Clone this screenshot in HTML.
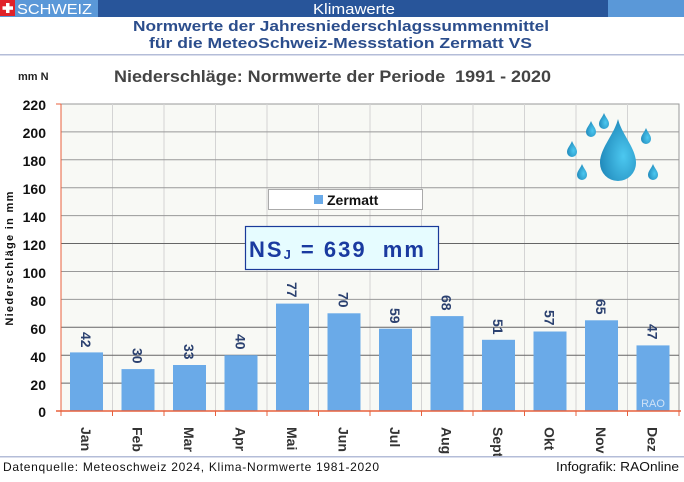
<!DOCTYPE html>
<html><head><meta charset="utf-8"><style>
body{margin:0;width:684px;height:477px;overflow:hidden;background:#fff}
text{font-family:"Liberation Sans",sans-serif}
</style></head><body>
<svg width="684" height="477" xmlns="http://www.w3.org/2000/svg">
<defs>
<radialGradient id="dg" cx="0.65" cy="0.6" r="0.7"><stop offset="0" stop-color="#4cc8f0"/><stop offset="1" stop-color="#1e86b8"/></radialGradient>
</defs>
<rect x="0" y="0" width="684" height="17" fill="#5a98d8"/>
<rect x="98" y="0" width="510" height="17" fill="#28559a"/>
<rect x="0" y="0" width="15" height="16" fill="#e0222a"/>
<rect x="6" y="3" width="3.5" height="10" fill="#fff"/><rect x="2.5" y="6.3" width="10.5" height="3.5" fill="#fff"/>
<text x="17" y="14" font-size="15" fill="#fff" textLength="75" lengthAdjust="spacingAndGlyphs">SCHWEIZ</text>
<text x="354" y="14" font-size="15" fill="#fff" text-anchor="middle" textLength="82" lengthAdjust="spacingAndGlyphs">Klimawerte</text>
<text x="133" y="31" font-size="15" font-weight="bold" fill="#2b4d8c" textLength="416" lengthAdjust="spacingAndGlyphs">Normwerte der Jahresniederschlagssummenmittel</text>
<text x="149" y="48" font-size="15" font-weight="bold" fill="#2b4d8c" textLength="383" lengthAdjust="spacingAndGlyphs">für die MeteoSchweiz-Messstation Zermatt VS</text>
<rect x="0" y="54" width="684" height="1.5" fill="#b4bdd8"/>
<text x="18" y="80" font-size="11" font-weight="bold" fill="#222">mm N</text>
<text x="114" y="82" font-size="17" font-weight="bold" fill="#444" textLength="437" lengthAdjust="spacingAndGlyphs" xml:space="preserve">Niederschläge: Normwerte der Periode  1991 - 2020</text>
<rect x="61" y="104" width="618" height="307" fill="#f8f9f5" stroke="#999" stroke-width="1"/>
<g stroke="#d4d4d4" stroke-width="1">
<line x1="112.5" y1="104" x2="112.5" y2="411"/><line x1="164" y1="104" x2="164" y2="411"/><line x1="215.5" y1="104" x2="215.5" y2="411"/><line x1="267" y1="104" x2="267" y2="411"/><line x1="318.5" y1="104" x2="318.5" y2="411"/><line x1="370" y1="104" x2="370" y2="411"/><line x1="421.5" y1="104" x2="421.5" y2="411"/><line x1="473" y1="104" x2="473" y2="411"/><line x1="524.5" y1="104" x2="524.5" y2="411"/><line x1="576" y1="104" x2="576" y2="411"/><line x1="627.5" y1="104" x2="627.5" y2="411"/>
</g>
<g stroke="#999" stroke-width="1">
<line x1="61" y1="131.9" x2="679" y2="131.9"/><line x1="61" y1="159.8" x2="679" y2="159.8"/><line x1="61" y1="187.7" x2="679" y2="187.7"/><line x1="61" y1="215.6" x2="679" y2="215.6"/><line x1="61" y1="243.5" x2="679" y2="243.5" stroke="#666"/><line x1="61" y1="271.5" x2="679" y2="271.5"/><line x1="61" y1="299.4" x2="679" y2="299.4"/><line x1="61" y1="327.3" x2="679" y2="327.3" stroke="#666"/><line x1="61" y1="355.2" x2="679" y2="355.2" stroke="#666"/><line x1="61" y1="383.1" x2="679" y2="383.1" stroke="#666"/>
</g>
<g font-size="14" font-weight="bold" fill="#111" text-anchor="end">
<text x="46" y="110">220</text><text x="46" y="138">200</text><text x="46" y="166">180</text><text x="46" y="194">160</text><text x="46" y="222">140</text><text x="46" y="250">120</text><text x="46" y="278">100</text><text x="46" y="306">80</text><text x="46" y="334">60</text><text x="46" y="362">40</text><text x="46" y="390">20</text><text x="46" y="417">0</text>
</g>
<text transform="translate(13,258) rotate(-90)" font-size="11" font-weight="bold" fill="#111" text-anchor="middle" letter-spacing="1.3">Niederschläge in mm</text>
<g fill="#6aaae8">
<rect x="70" y="352.4" width="33" height="58.6"/>
<rect x="121.5" y="369.1" width="33" height="41.9"/>
<rect x="173" y="365" width="33" height="46"/>
<rect x="224.5" y="355.2" width="33" height="55.8"/>
<rect x="276" y="303.6" width="33" height="107.4"/>
<rect x="327.5" y="313.3" width="33" height="97.7"/>
<rect x="379" y="328.7" width="33" height="82.3"/>
<rect x="430.5" y="316.1" width="33" height="94.9"/>
<rect x="482" y="339.8" width="33" height="71.2"/>
<rect x="533.5" y="331.5" width="33" height="79.5"/>
<rect x="585" y="320.3" width="33" height="90.7"/>
<rect x="636.5" y="345.4" width="33" height="65.6"/>
</g>
<text x="653" y="407" font-size="11" fill="#cfe2f7" text-anchor="middle">RAO</text>
<line x1="61" y1="104" x2="61" y2="416" stroke="#e8603c" stroke-width="1"/>
<line x1="56" y1="411" x2="681" y2="411" stroke="#e8603c" stroke-width="1.5"/>
<g stroke="#e8603c"><line x1="56" y1="104" x2="61" y2="104"/><line x1="112.5" y1="411" x2="112.5" y2="416"/><line x1="164" y1="411" x2="164" y2="416"/><line x1="215.5" y1="411" x2="215.5" y2="416"/><line x1="267" y1="411" x2="267" y2="416"/><line x1="318.5" y1="411" x2="318.5" y2="416"/><line x1="370" y1="411" x2="370" y2="416"/><line x1="421.5" y1="411" x2="421.5" y2="416"/><line x1="473" y1="411" x2="473" y2="416"/><line x1="524.5" y1="411" x2="524.5" y2="416"/><line x1="576" y1="411" x2="576" y2="416"/><line x1="627.5" y1="411" x2="627.5" y2="416"/><line x1="679" y1="411" x2="679" y2="416"/></g>
<g font-size="14" font-weight="bold" fill="#2b4170">
<text transform="translate(81,332) rotate(90)">42</text>
<text transform="translate(132.5,348) rotate(90)">30</text>
<text transform="translate(184,344) rotate(90)">33</text>
<text transform="translate(235.5,334) rotate(90)">40</text>
<text transform="translate(287,282) rotate(90)">77</text>
<text transform="translate(338.5,292) rotate(90)">70</text>
<text transform="translate(390,308) rotate(90)">59</text>
<text transform="translate(441.5,295) rotate(90)">68</text>
<text transform="translate(493,319) rotate(90)">51</text>
<text transform="translate(544.5,310) rotate(90)">57</text>
<text transform="translate(596,299) rotate(90)">65</text>
<text transform="translate(647.5,324) rotate(90)">47</text>
</g>
<g font-size="14" font-weight="bold" fill="#333">
<text transform="translate(81,427) rotate(90)">Jan</text>
<text transform="translate(132.5,427) rotate(90)">Feb</text>
<text transform="translate(184,427) rotate(90)">Mar</text>
<text transform="translate(235.5,427) rotate(90)">Apr</text>
<text transform="translate(287,427) rotate(90)">Mai</text>
<text transform="translate(338.5,427) rotate(90)">Jun</text>
<text transform="translate(390,427) rotate(90)">Jul</text>
<text transform="translate(441.5,427) rotate(90)">Aug</text>
<text transform="translate(493,427) rotate(90)">Sept</text>
<text transform="translate(544.5,427) rotate(90)">Okt</text>
<text transform="translate(596,427) rotate(90)">Nov</text>
<text transform="translate(647.5,427) rotate(90)">Dez</text>
</g>
<rect x="268.5" y="189.5" width="154" height="20" fill="#fff" stroke="#aaa"/>
<rect x="314" y="195" width="9" height="9" fill="#6aaae8"/>
<text x="327" y="205" font-size="14" font-weight="bold" fill="#111">Zermatt</text>
<rect x="245.5" y="226.5" width="193" height="43" fill="#e6fcff" stroke="#1a3a9a" stroke-width="1.2"/>
<text x="249" y="257" font-size="22" font-weight="bold" fill="#1a3aa0" font-family="DejaVu Sans" letter-spacing="2" xml:space="preserve">NS<tspan font-size="13" dy="2">J</tspan><tspan dy="-2"> = 639  mm</tspan></text>
<g fill="url(#dg)">
<path d="M618 119 C622 135 636 148 636 163 A18 18 0 0 1 600 163 C600 148 614 135 618 119Z"/>
<path d="M604 113 C606 118 609 120 609 124 A5 5 0 0 1 599 124 C599 120 602 118 604 113Z"/>
<path d="M591 121 C593 126 596 128 596 132 A5 5 0 0 1 586 132 C586 128 589 126 591 121Z"/>
<path d="M646 128 C648 133 651 135 651 139 A5 5 0 0 1 641 139 C641 135 644 133 646 128Z"/>
<path d="M572 141 C574 146 577 148 577 152 A5 5 0 0 1 567 152 C567 148 570 146 572 141Z"/>
<path d="M582 164 C584 169 587 171 587 175 A5 5 0 0 1 577 175 C577 171 580 169 582 164Z"/>
<path d="M653 164 C655 169 658 171 658 175 A5 5 0 0 1 648 175 C648 171 651 169 653 164Z"/>
</g>
<rect x="0" y="456" width="684" height="1.5" fill="#b4bdd8"/>
<text x="3" y="471" font-size="12" fill="#111" font-family="DejaVu Sans" textLength="376">Datenquelle: Meteoschweiz 2024, Klima-Normwerte 1981-2020</text>
<text x="679" y="471" font-size="13" fill="#111" text-anchor="end" textLength="123" lengthAdjust="spacingAndGlyphs">Infografik: RAOnline</text>
</svg>
</body></html>
